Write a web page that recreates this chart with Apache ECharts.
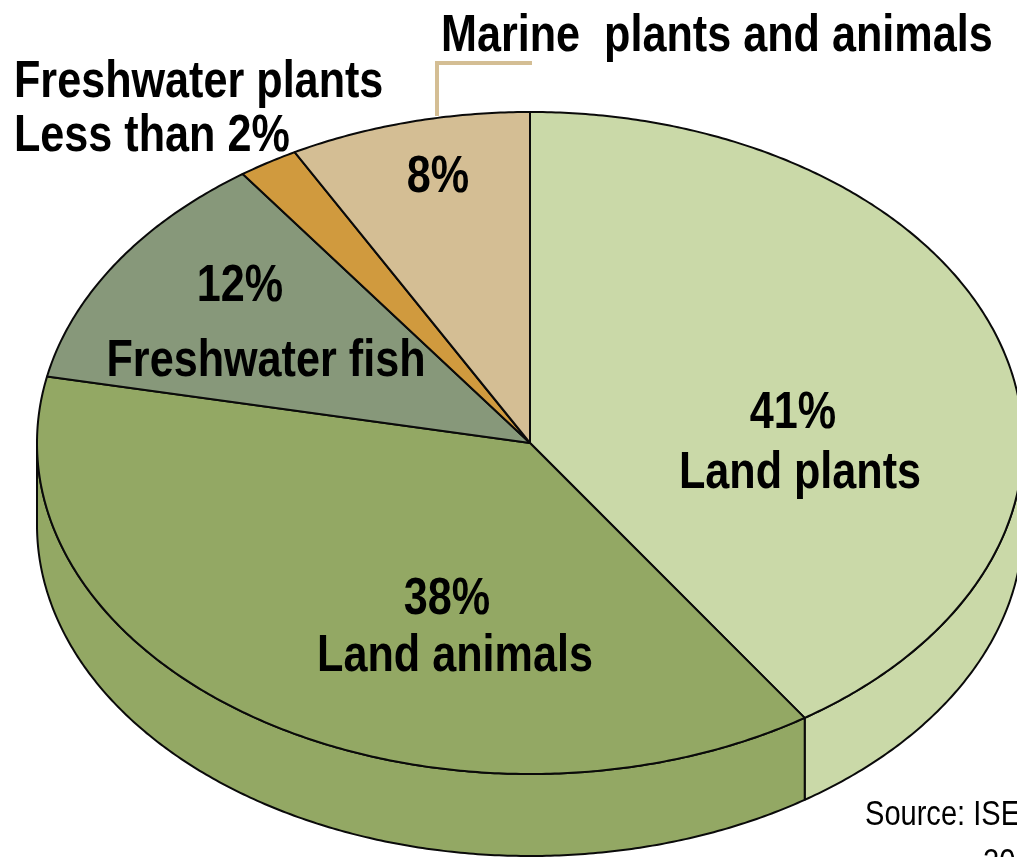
<!DOCTYPE html>
<html><head><meta charset="utf-8">
<script src="https://cdn.jsdelivr.net/npm/echarts@6/dist/echarts.min.js"></script>
<style>html,body{margin:0;padding:0;background:#fff}#c{width:1017px;height:857px}</style>
</head><body><div id="c"></div>
<script>
// ---- data ----
const categories = ['Land plants', 'Land animals', 'Freshwater fish', 'Freshwater plants', 'Marine  plants and animals'];
const values = [41, 38, 12, 2, 8];
const percentLabels = ['41%', '38%', '12%', 'Less than 2%', '8%'];
const sourceLines = ['Source: ISE', '20'];

// ---- style / layout ----
const palette = ['#cad9a8', '#93a864', '#87987a', '#d09a3e', '#d4be94'];
const FONT = "'Liberation Sans','Arial',sans-serif";
const CONDENSE = 0.83;
const geo = { cx: 530, cy: 443, rx: 493, ry: 331, depth: 82 };
// in-slice label anchors (pixel centres), per slice index
const innerLabelLayout = {
  0: [{ t: 'pct', x: 793, y: 414 }, { t: 'name', x: 800, y: 474 }],
  1: [{ t: 'pct', x: 447, y: 600 }, { t: 'name', x: 455, y: 657 }],
  2: [{ t: 'pct', x: 240, y: 287 }, { t: 'name', x: 266, y: 362 }],
  4: [{ t: 'pct', x: 438, y: 178 }]
};

const total = values.reduce((a, b) => a + b, 0);
const cum = [];
let acc = 0;
values.forEach(v => { cum.push(acc); acc += v; });

function pt(t, dy) {
  const r = t * Math.PI / 180;
  return [geo.cx + geo.rx * Math.sin(r), geo.cy - geo.ry * Math.cos(r) + (dy || 0)];
}
function arc(t0, t1, dy) {
  const pts = [];
  const n = Math.max(2, Math.ceil(Math.abs(t1 - t0) / 0.5));
  for (let i = 0; i <= n; i++) pts.push(pt(t0 + (t1 - t0) * i / n, dy));
  return pts;
}
function angles(idx, v) {
  const s = cum[idx] / total * 360;
  return [s, s + v / total * 360];
}

const seriesData = values.map((v, i) => ({ name: categories[i], value: v }));
const edgeStyle = { stroke: '#0a0a0a', lineWidth: 2, lineJoin: 'round' };

function renderSide(params, api) {
  const idx = params.dataIndex;
  const [s, e] = angles(idx, api.value(0));
  const a = Math.max(s, 90), b = Math.min(e, 270);
  if (a >= b) return { type: 'group', children: [] };
  const pts = arc(a, b, 0).concat(arc(b, a, geo.depth));
  return {
    type: 'polygon',
    shape: { points: pts },
    style: Object.assign({ fill: palette[idx] }, edgeStyle)
  };
}

function renderTop(params, api) {
  const idx = params.dataIndex;
  const [s, e] = angles(idx, api.value(0));
  const pts = [[geo.cx, geo.cy]].concat(arc(s, e, 0));
  const children = [{
    type: 'polygon',
    shape: { points: pts },
    style: Object.assign({ fill: palette[idx] }, edgeStyle)
  }];
  (innerLabelLayout[idx] || []).forEach(l => {
    children.push({
      type: 'text',
      x: l.x, y: l.y, scaleX: CONDENSE,
      z2: 10,
      style: {
        text: l.t === 'pct' ? percentLabels[idx] : categories[idx],
        fill: '#000', font: 'bold 52px ' + FONT,
        align: 'center', verticalAlign: 'middle'
      }
    });
  });
  return { type: 'group', children };
}

function titleText(text, x, y, font, align) {
  return { type: 'text', x: x, y: y, scaleX: CONDENSE, z: 6,
    style: { text: text, font: font, fill: '#000', align: align || 'left', verticalAlign: 'middle' } };
}

const chart = echarts.init(document.getElementById('c'), null, { renderer: 'canvas' });
chart.setOption({
  backgroundColor: '#fff',
  animation: false,
  series: [
    { type: 'custom', name: 'side', coordinateSystem: 'none', data: seriesData, renderItem: renderSide, z: 1, silent: true },
    { type: 'custom', name: 'top', coordinateSystem: 'none', data: seriesData, renderItem: renderTop, z: 2, silent: true }
  ],
  graphic: [
    { type: 'polyline', z: 5, shape: { points: [[437, 116], [437, 63], [532, 63]] },
      style: { stroke: palette[4], lineWidth: 4, fill: null } },
    titleText(categories[4], 441, 37, 'bold 52px ' + FONT),
    titleText(categories[3], 14, 83, 'bold 52px ' + FONT),
    titleText(percentLabels[3], 14, 137, 'bold 52px ' + FONT),
    titleText(sourceLines[0], 865, 815, '35px ' + FONT),
    titleText(sourceLines[1], 983, 863, '35px ' + FONT)
  ]
});
</script>
</body></html>
